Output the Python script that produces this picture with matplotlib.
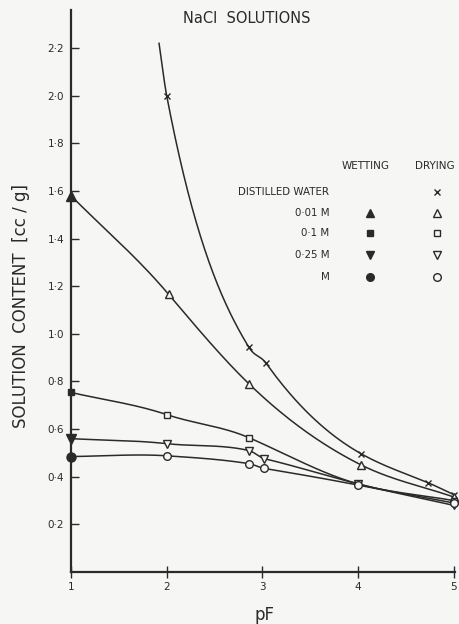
import matplotlib.pyplot as plt
import numpy as np

plt.rcParams['font.family'] = ['DejaVu Sans']

# pF values and solution contents (cc/g), drying branch; first point of each
# salt series is the wetting value at pF 1
water_pf = [2.0, 2.86, 3.04, 4.03, 4.73, 5.0]
water_val = [2.0, 0.943, 0.876, 0.497, 0.375, 0.325]
water_start = (1.92, 2.22)   # where the distilled water curve leaves the top

m001_pf = [1.0, 2.02, 2.86, 4.03, 5.0]
m001_val = [1.58, 1.166, 0.79, 0.45, 0.315]

m01_pf = [1.0, 2.0, 2.86, 4.0, 5.0]
m01_val = [0.754, 0.661, 0.564, 0.37, 0.30]

m025_pf = [1.0, 2.0, 2.86, 3.02, 4.0, 5.0]
m025_val = [0.56, 0.539, 0.51, 0.476, 0.37, 0.28]

m1_pf = [1.0, 2.0, 2.86, 3.02, 4.0, 5.0]
m1_val = [0.485, 0.488, 0.455, 0.435, 0.365, 0.29]

legend_names = ['DISTILLED WATER', '0·01 M', '0·1 M', '0·25 M', 'M']
wet_markers = [None, '^', 's', 'v', 'o']
dry_markers = ['x', '^', 's', 'v', 'o']

y_ticks = [0.2, 0.4, 0.6, 0.8, 1.0, 1.2, 1.4, 1.6, 1.8, 2.0, 2.2]
y_labels = ['0·2', '0·4', '0·6', '0·8', '1·0', '1·2', '1·4', '1·6', '1·8', '2·0', '2·2']
x_ticks = [1, 2, 3, 4, 5]

ink = '#2a2a2a'
paper = '#f6f6f4'


def smooth(xs, ys, n=40):
    # cubic Hermite through every point; interior slopes taken from a
    # cubic fit of log(content) so close pairs of points don't make wiggles
    xs = np.asarray(xs, float)
    ys = np.asarray(ys, float)
    h = np.diff(xs)
    d = np.diff(ys) / h
    c = np.polyfit(xs, np.log(ys), 3)
    m = ys * np.polyval(np.polyder(c), xs)
    m[0], m[-1] = d[0], d[-1]
    out_x, out_y = [], []
    for i in range(len(h)):
        t = np.linspace(0, 1, n)
        h00 = 2 * t**3 - 3 * t**2 + 1
        h10 = t**3 - 2 * t**2 + t
        h01 = -2 * t**3 + 3 * t**2
        h11 = t**3 - t**2
        out_x.append(xs[i] + t * h[i])
        out_y.append(h00 * ys[i] + h10 * h[i] * m[i]
                     + h01 * ys[i + 1] + h11 * h[i] * m[i + 1])
    return np.concatenate(out_x), np.concatenate(out_y)


def marker_size(mk):
    return 4 if mk == 's' else 5.5


fig = plt.figure(figsize=(4.59, 6.24), dpi=100, facecolor=paper)
ax = fig.add_axes([0.1547, 0.0833, 0.836, 0.9007])
ax.set_facecolor(paper)

# distilled water: drying only
xx, yy = smooth([water_start[0]] + water_pf, [water_start[1]] + water_val)
ax.plot(xx, yy, color=ink, lw=1.1)
ax.plot(water_pf, water_val, ls='none', marker='x', ms=5, mew=1.0,
        color=ink, clip_on=False)

series = [(m001_pf, m001_val, '^'), (m01_pf, m01_val, 's'),
          (m025_pf, m025_val, 'v'), (m1_pf, m1_val, 'o')]
for pf, val, mk in series:
    xx, yy = smooth(pf, val)
    ax.plot(xx, yy, color=ink, lw=1.1, zorder=2)
    # wetting point, filled
    ax.plot(pf[0], val[0], ls='none', marker=mk, ms=marker_size(mk) + 1,
            color=ink, zorder=3, clip_on=False)
    # drying points, open
    ax.plot(pf[1:], val[1:], ls='none', marker=mk, ms=marker_size(mk),
            mfc=paper, mec=ink, mew=1.0, zorder=3, clip_on=False)

ax.set_xlim(1, 5.01)
ax.set_ylim(0, 2.36)
ax.set_xticks(x_ticks)
ax.set_xticklabels([str(v) for v in x_ticks])
ax.set_yticks(y_ticks)
ax.set_yticklabels(y_labels)
ax.tick_params(axis='y', direction='in', length=6, width=1.0, color=ink,
               labelsize=7.5, labelcolor=ink, pad=5)
ax.tick_params(axis='x', direction='inout', length=8, width=1.0, color=ink,
               labelsize=7.5, labelcolor=ink, pad=3)
for s in ['top', 'right']:
    ax.spines[s].set_visible(False)
for s in ['left', 'bottom']:
    ax.spines[s].set_color(ink)
    ax.spines[s].set_linewidth(1.6)

# titles and axis labels
fig.text(0.538, 0.971, 'NaCl  SOLUTIONS', ha='center', va='center',
         fontsize=10.5, color=ink)
fig.text(0.577, 0.014, 'pF', ha='center', va='center', fontsize=12, color=ink)
fig.text(0.045, 0.51, 'SOLUTION  CONTENT  [cc / g]', rotation=90,
         ha='center', va='center', fontsize=12, color=ink)

# key table
ax.text(4.08, 1.705, 'WETTING', ha='center', va='center', fontsize=7.5,
        color=ink)
ax.text(4.80, 1.705, 'DRYING', ha='center', va='center', fontsize=7.5,
        color=ink)
row_y = [1.596, 1.507, 1.423, 1.33, 1.238]
for name, wm, dm, ry in zip(legend_names, wet_markers, dry_markers, row_y):
    ax.text(3.70, ry, name, ha='right', va='center', fontsize=7.4, color=ink)
    if wm is not None:
        ax.plot(4.12, ry, ls='none', marker=wm, ms=marker_size(wm),
                color=ink, clip_on=False)
    if dm == 'x':
        ax.plot(4.82, ry, ls='none', marker='x', ms=5, mew=1.0, color=ink)
    else:
        ax.plot(4.82, ry, ls='none', marker=dm, ms=marker_size(dm),
                mfc=paper, mec=ink, mew=1.0)

fig.savefig('out.png', dpi=100, facecolor=paper)
